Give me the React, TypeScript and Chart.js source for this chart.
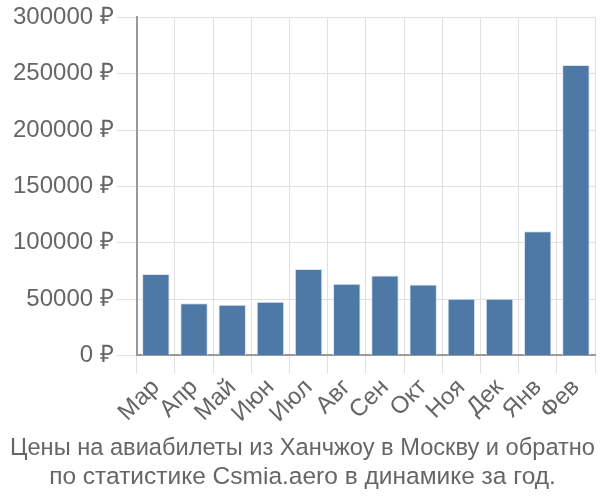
import React, { useEffect, useRef } from "react";
import { Chart, registerables } from "chart.js";

Chart.register(...registerables);

const months = ["Мар", "Апр", "Май", "Июн", "Июл", "Авг", "Сен", "Окт", "Ноя", "Дек", "Янв", "Фев"];
const prices = [72300, 46200, 45000, 47600, 76700, 63500, 70900, 63000, 50200, 50200, 110200, 257800];
const titleLines = [
  "Цены на авиабилеты из Ханчжоу в Москву и обратно",
  "по статистике Csmia.aero в динамике за год.",
];

export default function App() {
  const ref = useRef<HTMLCanvasElement | null>(null);
  useEffect(() => {
    document.body.style.margin = "0";
    const ctx = ref.current!;
    const family = "'Liberation Sans', Arial, sans-serif";
    const tickFont = { family, size: 24 };
    const chart = new Chart(ctx, {
      type: "bar",
      data: {
        labels: months,
        datasets: [
          {
            data: prices,
            backgroundColor: "#4e79a7",
            borderColor: "#dbe4ee",
            borderWidth: 1,
            barPercentage: 0.72,
            categoryPercentage: 1,
          },
        ],
      },
      options: {
        animation: false,
        responsive: false,
        maintainAspectRatio: false,
        layout: { padding: { left: 10, right: 5, top: -2, bottom: 0 } },
        plugins: {
          legend: { display: false },
          tooltip: { enabled: false },
          title: {
            display: true,
            position: "bottom",
            text: titleLines,
            color: "#666",
            font: { family, size: 24.5, weight: "normal" },
            padding: { top: 5, bottom: 8 },
            lineHeight: 1.1,
          },
        },
        scales: {
          x: {
            grid: { color: "#e0e0e0", tickLength: 18 },
            border: { color: "#999", width: 2 },
            ticks: {
              color: "#666",
              font: tickFont,
              maxRotation: 45,
              minRotation: 45,
              padding: 0,
              autoSkip: false,
            },
          },
          y: {
            min: 0,
            max: 300000,
            grid: { color: "#e0e0e0", tickLength: 20 },
            border: { color: "#999", width: 2 },
            ticks: {
              stepSize: 50000,
              color: "#666",
              font: tickFont,
              padding: 3,
              callback: (v: any) => v + " ₽",
            },
          },
        },
      },
    });
    return () => chart.destroy();
  }, []);
  return (
    <div style={{ width: 600, height: 500 }}>
      <canvas ref={ref} width={600} height={500} style={{ display: "block" }} />
    </div>
  );
}
